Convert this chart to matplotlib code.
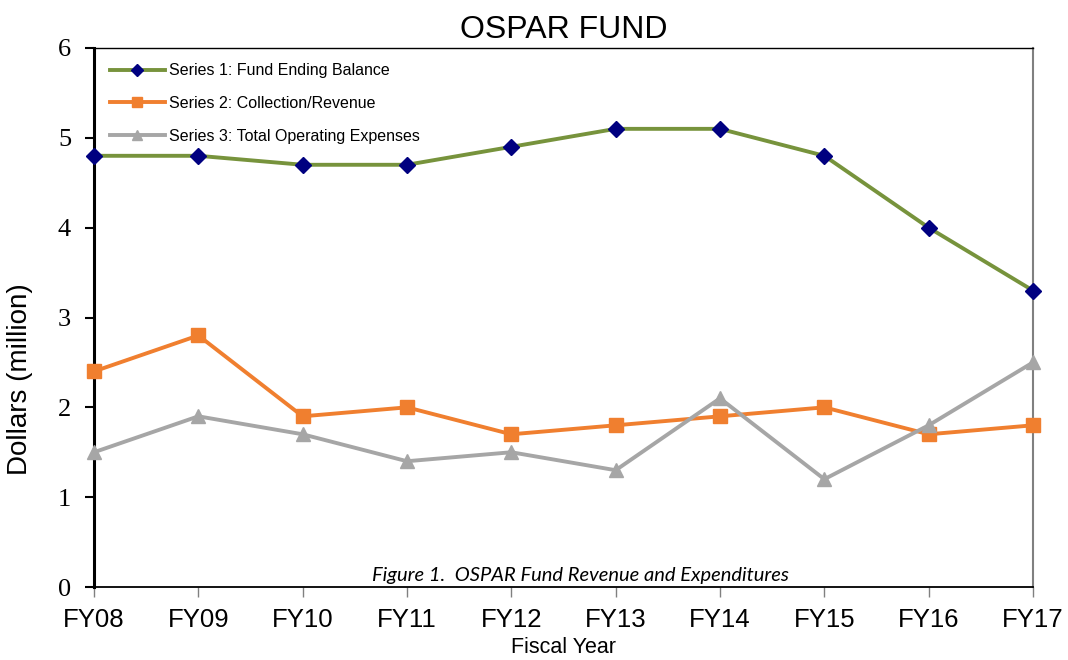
import matplotlib
matplotlib.use("Agg")
import matplotlib.pyplot as plt

years = ["FY08", "FY09", "FY10", "FY11", "FY12", "FY13", "FY14", "FY15", "FY16", "FY17"]
balance = [4.8, 4.8, 4.7, 4.7, 4.9, 5.1, 5.1, 4.8, 4.0, 3.3]
revenue = [2.4, 2.8, 1.9, 2.0, 1.7, 1.8, 1.9, 2.0, 1.7, 1.8]
expenses = [1.5, 1.9, 1.7, 1.4, 1.5, 1.3, 2.1, 1.2, 1.8, 2.5]
y_ticks = [0, 1, 2, 3, 4, 5, 6]

plt.rcParams["font.family"] = ["Liberation Sans", "DejaVu Sans"]

fig = plt.figure(figsize=(10.68, 6.6), dpi=100)
ax = fig.add_axes([94 / 1068, 73 / 660, 939 / 1068, 539 / 660])

x = list(range(len(years)))
ax.plot(x, balance, color="#77933C", lw=2.8, marker="D", ms=8.5,
        mfc="#000080", mec="#000080", label="Series 1: Fund Ending Balance", clip_on=False, zorder=3)
ax.plot(x, revenue, color="#F07F2F", lw=2.8, marker="s", ms=10,
        mfc="#F07F2F", mec="#F07F2F", label="Series 2: Collection/Revenue", clip_on=False, zorder=3)
ax.plot(x, expenses, color="#A6A6A6", lw=2.8, marker="^", ms=10.5,
        mfc="#A6A6A6", mec="#A6A6A6", label="Series 3: Total Operating Expenses", clip_on=False, zorder=3)

ax.set_xlim(0, len(years) - 1)
ax.set_ylim(0, 6)
ax.set_xticks(x)
ax.set_xticklabels(years, fontsize=18.5)
ax.set_yticks(y_ticks)
ax.set_yticklabels([str(v) for v in y_ticks], fontsize=19, family="Liberation Serif")

ax.tick_params(axis="y", direction="out", length=6.5, width=1.5, pad=10)
ax.tick_params(axis="x", direction="out", length=7, width=1, pad=8, color="#808080")

ax.spines["left"].set_linewidth(2.2)
ax.spines["left"].set_color("black")
ax.spines["bottom"].set_linewidth(1.3)
ax.spines["bottom"].set_color("black")
ax.spines["top"].set_linewidth(1.0)
ax.spines["top"].set_color("black")
ax.spines["right"].set_linewidth(1.5)
ax.spines["right"].set_color("#808080")

ax.set_title("OSPAR FUND", fontsize=23, pad=7)
ax.set_ylabel("Dollars (million)", fontsize=20)
ax.yaxis.set_label_coords(-0.065, 0.386)
ax.set_xlabel("Fiscal Year", fontsize=15.5)
ax.xaxis.set_label_coords(0.5, -0.113)
ax.xaxis.label.set_va("center")

ax.text(0.5176, 0.022, "Figure 1.  OSPAR Fund Revenue and Expenditures",
        transform=ax.transAxes, ha="center", va="center",
        fontsize=14.5, style="italic", family=["Lato", "DejaVu Sans"])

ax.legend(loc="upper left", bbox_to_anchor=(0.017, 0.972), frameon=False,
          fontsize=11.5, handlelength=3.44, handletextpad=0.25,
          labelspacing=1.12, borderpad=0, borderaxespad=0, markerscale=0.7)

fig.savefig("out.png", dpi=100)
